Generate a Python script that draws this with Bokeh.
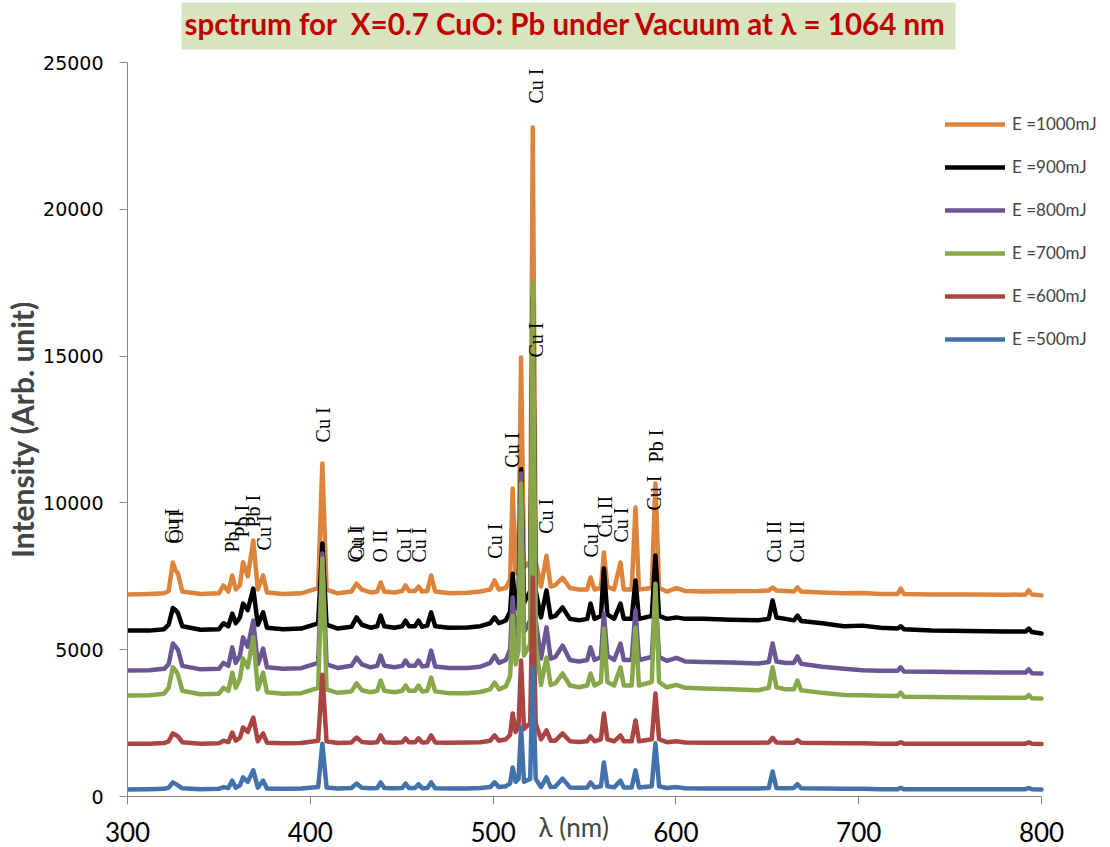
import math
from bokeh.plotting import figure
from bokeh.models import (ColumnDataSource, Range1d, SingleIntervalTicker, Legend,
                          LegendItem, Title)
from bokeh.core.properties import value
from bokeh.embed import file_html
from bokeh.resources import INLINE

# ---------------- data ----------------
wl = [
    300, 312, 320, 322.5, 324.8, 326.3, 327.6, 330, 340, 350,
    352.5, 355.2, 357.3, 359.2, 361.5, 363.2, 365.8, 368.8, 371.3, 374.2,
    376.3, 385, 395, 404.3, 406.6, 408.9, 415, 422.5, 425.3, 428.2,
    433, 436.6, 438.5, 440.5, 446, 450.3, 452.1, 454, 457.3, 459.2,
    461.2, 464, 466.1, 468.3, 476, 486, 493, 498.4, 500.8, 503.2,
    507, 509.3, 510.7, 512.3, 513.9, 515.3, 516.9, 520.3, 521.7, 523.3,
    526.2, 529.2, 531.5, 534, 538, 542, 547, 551.5, 553.3, 555.5,
    559, 560.6, 562.5, 566.2, 569.7, 571.5, 575.8, 577.9, 579.8, 586.8,
    588.8, 590.8, 595, 600.3, 605, 615, 630, 645, 650.8, 652.9,
    655, 660, 664.5, 666.5, 668.5, 680, 692, 702, 712, 721.3,
    723, 724.7, 740, 760, 780, 791.3, 793, 794.7, 800]

e1000 = [
    6880, 6900, 6920, 7000, 7970, 7700, 7600, 6980, 6900, 6920,
    7190, 6980, 7530, 7050, 7200, 7980, 7500, 8720, 7050, 7530,
    6950, 6900, 6920, 7100, 11340, 7050, 6920, 6980, 7250, 7050,
    6950, 6980, 7290, 6980, 6950, 7000, 7190, 7000, 7000, 7150,
    6980, 7000, 7530, 6980, 6920, 6940, 6980, 7050, 7360, 7050,
    7100, 7400, 10490, 7600, 8000, 14950, 7800, 8000, 22790, 8000,
    7150, 8200, 7150, 7200, 7450, 7100, 7050, 7050, 7460, 7050,
    7100, 8310, 7150, 7050, 7970, 7050, 7050, 9840, 7050, 7100,
    10660, 7100, 6980, 7100, 7000, 6980, 6990, 7000, 7020, 7120,
    7020, 7000, 6980, 7120, 6980, 6950, 6920, 6930, 6900, 6900,
    7080, 6900, 6880, 6880, 6870, 6880, 7020, 6880, 6850]

e900 = [
    5650, 5650, 5700, 5850, 6420, 6350, 6250, 5800, 5680, 5700,
    5900, 5800, 6230, 5900, 6100, 6570, 6350, 7080, 5850, 6270,
    5750, 5700, 5720, 5900, 8620, 5850, 5720, 5780, 6100, 5850,
    5750, 5800, 6160, 5800, 5750, 5800, 5990, 5800, 5800, 5990,
    5780, 5820, 6270, 5800, 5750, 5760, 5800, 5900, 6100, 5900,
    6000, 6300, 7590, 6400, 6800, 11150, 6600, 7000, 17000, 7000,
    6100, 7020, 6100, 6150, 6440, 6050, 6000, 6050, 6570, 6050,
    6150, 7770, 6200, 6050, 6570, 6050, 6050, 7360, 6050, 6150,
    8210, 6150, 6050, 6100, 6050, 6050, 6020, 6000, 6050, 6680,
    6100, 6050, 6000, 6160, 5980, 5900, 5800, 5820, 5750, 5720,
    5800, 5700, 5650, 5640, 5620, 5620, 5720, 5600, 5550]

e800 = [
    4290, 4300, 4350, 4500, 5210, 5100, 5000, 4450, 4330, 4350,
    4550, 4450, 5080, 4550, 4800, 5420, 5100, 5990, 4500, 5040,
    4400, 4350, 4370, 4550, 8280, 4500, 4380, 4450, 4730, 4500,
    4400, 4450, 4800, 4450, 4400, 4450, 4630, 4450, 4450, 4630,
    4430, 4450, 4970, 4430, 4380, 4380, 4420, 4550, 4800, 4550,
    4650, 5000, 6780, 5300, 5800, 11000, 5600, 6000, 16000, 6000,
    4700, 5760, 4700, 4750, 5140, 4650, 4600, 4650, 5080, 4650,
    4750, 6230, 4800, 4650, 5210, 4650, 4650, 6340, 4650, 4750,
    6900, 4750, 4620, 4720, 4600, 4580, 4560, 4530, 4580, 5210,
    4600, 4550, 4550, 4770, 4520, 4420, 4350, 4300, 4280, 4280,
    4400, 4260, 4250, 4230, 4220, 4220, 4330, 4200, 4190]

e700 = [
    3440, 3450, 3500, 3700, 4400, 4300, 4150, 3600, 3480, 3500,
    3700, 3600, 4220, 3700, 4000, 4700, 4400, 5420, 3650, 4220,
    3550, 3500, 3520, 3700, 8110, 3650, 3530, 3580, 3850, 3620,
    3550, 3600, 3950, 3600, 3550, 3600, 3780, 3600, 3600, 3780,
    3580, 3600, 4050, 3580, 3520, 3520, 3560, 3650, 3880, 3650,
    3750, 4100, 6160, 4500, 5000, 10660, 4800, 5200, 17500, 5200,
    3800, 4730, 3800, 3850, 4190, 3780, 3720, 3780, 4190, 3780,
    3900, 5720, 3900, 3780, 4400, 3780, 3780, 5760, 3780, 3900,
    7250, 3900, 3720, 3800, 3700, 3680, 3650, 3620, 3700, 4400,
    3720, 3650, 3650, 3950, 3620, 3530, 3460, 3450, 3430, 3420,
    3540, 3400, 3390, 3370, 3360, 3360, 3450, 3350, 3340]

e600 = [
    1800, 1800, 1820, 1880, 2150, 2100, 2050, 1850, 1800, 1810,
    1900, 1850, 2180, 1900, 2000, 2350, 2200, 2690, 1880, 2150,
    1830, 1810, 1820, 1900, 4150, 1880, 1820, 1840, 2010, 1860,
    1830, 1850, 2080, 1850, 1830, 1850, 1980, 1850, 1850, 1980,
    1840, 1850, 2080, 1840, 1830, 1840, 1850, 1900, 2080, 1900,
    1950, 2100, 2830, 2200, 2400, 4630, 2300, 2500, 7460, 2500,
    1950, 2250, 1900, 1900, 2150, 1880, 1860, 1880, 2050, 1880,
    1950, 2830, 1950, 1880, 2080, 1880, 1880, 2590, 1880, 1950,
    3510, 1950, 1850, 1880, 1840, 1830, 1830, 1830, 1840, 2000,
    1840, 1830, 1830, 1920, 1830, 1820, 1810, 1810, 1800, 1800,
    1850, 1800, 1800, 1800, 1800, 1800, 1840, 1800, 1790]

e500 = [
    240, 250, 260, 300, 480, 430, 380, 280, 250, 260,
    320, 290, 540, 300, 380, 650, 500, 890, 300, 540,
    270, 260, 270, 320, 1800, 310, 270, 290, 440, 300,
    280, 290, 480, 290, 280, 290, 440, 290, 290, 420,
    280, 290, 480, 280, 270, 270, 290, 320, 480, 320,
    350, 450, 990, 500, 600, 2350, 500, 600, 4400, 600,
    320, 650, 320, 330, 610, 310, 300, 310, 480, 310,
    350, 1160, 350, 310, 540, 310, 310, 890, 310, 350,
    1810, 350, 290, 320, 280, 270, 270, 270, 290, 850,
    290, 280, 290, 420, 280, 270, 260, 260, 250, 250,
    300, 250, 250, 250, 250, 250, 290, 250, 240]

series_names = ["E =1000mJ", "E =900mJ", "E =800mJ", "E =700mJ", "E =600mJ", "E =500mJ"]
series_colors = ["#DE833B", "#000000", "#6A5693", "#87A84A", "#AA4543", "#4371AA"]

line_labels = ["Cu I", "O II", "Pb I", "Pb I", "Pb I", "Cu I", "Cu I", "Cu I", "Cu I",
               "O II", "Cu I", "Cu I", "Cu I", "Cu I", "Cu I", "Cu I", "Cu I", "Cu I",
               "Cu II", "Cu I", "Cu I", "Pb I", "Cu II", "Cu II"]
label_wl = [324.6, 326.8, 356.9, 362.9, 368.4, 374.4, 406.7, 424.3, 425.5,
            438.4, 451.5, 459.2, 500.8, 510.6, 523.2, 523.2, 528.9, 553.3,
            561.3, 569.7, 587.9, 588.9, 653.4, 666.5]
label_int = [8620, 8620, 8310, 8820, 9160, 8380, 12060, 7970, 8050,
             7970, 7970, 7970, 8100, 11200, 14950, 23600, 8950, 8140,
             8820, 8650, 9740, 11380, 7970, 7970]

title_text = "spctrum for\u00a0 X=0.7 CuO: Pb under Vacuum at \u03bb = 1064 nm"
x_label = "\u03bb (nm)"
y_label = "Intensity (Arb. unit)"
x_lo, x_hi, x_step = 300, 800, 100
y_lo, y_hi, y_step = 0, 25000, 5000

# ---------------- layout ----------------
W, H = 1110, 847
left_px, right_px, top_px, bottom_px = 127, 1041, 62, 796
frame_w = W - left_px
x_end = x_lo + (x_hi - x_lo) * frame_w / (right_px - left_px)

p = figure(width=W, height=H, output_backend="svg", toolbar_location=None,
           x_range=Range1d(x_lo, x_end), y_range=Range1d(y_lo, y_hi),
           min_border_left=left_px, min_border_right=0, min_border_top=top_px,
           min_border_bottom=H - bottom_px)
p.outline_line_color = None
p.xgrid.visible = False
p.ygrid.visible = False
p.background_fill_color = "white"

# blank spacer between the title box and the plot area (nearest the frame)
p.add_layout(Title(text="\u00a0", text_font="Lato", text_font_size="9px",
                   standoff=0, padding=0), "above")
p.add_layout(Title(text=title_text, align="left", offset=181 - left_px,
                   text_font="Lato", text_font_style="bold", text_font_size="29.5px",
                   text_color="#C00000", background_fill_color="#D7E4BD",
                   padding=(3, 9, 3, 9), standoff=0), "above")

axis_col = "#868686"
for ax in (p.xaxis[0], p.yaxis[0]):
    ax.axis_line_color = axis_col
    ax.major_tick_line_color = axis_col
    ax.minor_tick_line_color = None
    ax.major_tick_in = 0
    ax.major_tick_out = 8
    ax.major_label_text_color = "#000000"

p.xaxis.bounds = (x_lo, x_hi)
p.xaxis.ticker = SingleIntervalTicker(interval=x_step)
p.yaxis.ticker = SingleIntervalTicker(interval=y_step)

p.xaxis.major_label_text_font = "Lato"
p.xaxis.major_label_text_font_size = "26px"
p.xaxis.major_label_standoff = 17
# trailing em-spaces shift the centred label to the left, as in the reference
p.xaxis.axis_label = x_label + "\u2003\u2003\u2003\u2003\u2002"
p.xaxis.axis_label_text_font = "Lato"
p.xaxis.axis_label_text_font_size = "26px"
p.xaxis.axis_label_text_font_style = "normal"
p.xaxis.axis_label_standoff = -34

p.yaxis.major_label_text_font = "DejaVu Sans"
p.yaxis.major_label_text_font_size = "19px"
p.yaxis.major_label_standoff = 16
p.yaxis.axis_label = y_label
p.yaxis.axis_label_text_font = "Lato"
p.yaxis.axis_label_text_font_size = "30px"
p.yaxis.axis_label_text_font_style = "bold"
p.yaxis.axis_label_standoff = 0

series_vals = [e1000, e900, e800, e700, e600, e500]
renderers = []
for name, col, vals in zip(series_names, series_colors, series_vals):
    src = ColumnDataSource(dict(x=wl, y=vals))
    r = p.line("x", "y", source=src, line_color=col, line_width=4.5,
               line_join="round", line_cap="round")
    renderers.append(r)

lsrc = ColumnDataSource(dict(x=label_wl, y=label_int, t=line_labels))
p.text("x", "y", text="t", source=lsrc, angle=math.pi / 2,
       text_font=value("Liberation Serif"), text_font_size="20px",
       text_color="#000000", text_align="left", text_baseline="middle")

legend = Legend(items=[LegendItem(label=n, renderers=[r]) for n, r in zip(series_names, renderers)],
                location=(818, bottom_px - 349), glyph_width=60, glyph_height=20, label_height=20,
                spacing=22, padding=0, margin=0, border_line_color=None,
                background_fill_alpha=0, label_text_font="Lato",
                label_text_font_size="17px", label_standoff=7)
p.add_layout(legend)

open("out.html", "w").write(file_html(p, INLINE))
